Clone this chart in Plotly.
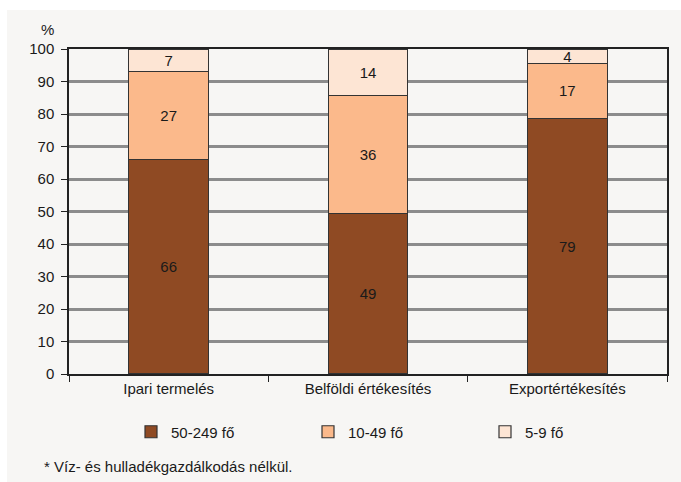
import plotly.graph_objects as go

categories = ["Ipari termelés", "Belföldi értékesítés", "Exportértékesítés"]
series_names = ["50-249 fő", "10-49 fő", "5-9 fő"]
large = [65.9, 49.3, 78.7]
medium = [27.3, 36.4, 16.9]
small = [6.8, 14.3, 4.4]
y_ticks = [0, 10, 20, 30, 40, 50, 60, 70, 80, 90, 100]

colors = ["#8f4a23", "#fbb98b", "#fde5d4"]
FONT = "Liberation Sans"
PANEL = "#f7f6f4"
TXT = "#1a1a1a"
FS = 15

W, H = 681, 482
L, R, T, B = 69, 14, 49, 108

fig = go.Figure()
for name, vals, col in zip(series_names, [large, medium, small], colors):
    fig.add_trace(go.Bar(
        x=categories, y=vals, name=name,
        marker=dict(color=col, line=dict(color="#333333", width=1.2)),
        text=[f"{v:.0f}" for v in vals],
        textposition="inside", insidetextanchor="middle",
        constraintext="none", textangle=0,
        insidetextfont=dict(family=FONT, size=FS, color=TXT),
        width=0.4,
    ))

pw = W - L - R
ph = H - T - B
def px_x(p):
    return (p - L) / pw
def px_y(p):
    return (H - B - p) / ph

fig.update_layout(
    width=W, height=H,
    margin=dict(l=L, r=R, t=T, b=B),
    barmode="stack",
    paper_bgcolor=PANEL, plot_bgcolor=PANEL,
    font=dict(family=FONT, size=FS, color=TXT),
    showlegend=True,
    legend=dict(
        orientation="h", x=px_x(131), xanchor="left", y=px_y(432), yanchor="middle",
        entrywidth=132, entrywidthmode="pixels", itemwidth=30,
        font=dict(family=FONT, size=FS, color=TXT), bgcolor="rgba(0,0,0,0)",
        traceorder="normal",
    ),
    xaxis=dict(
        type="category", showline=True, linecolor="#222222", linewidth=1.5,
        mirror=True, ticks="outside", tickson="boundaries", ticklen=6,
        tickcolor="#222222", tickfont=dict(family=FONT, size=FS, color=TXT),
        showgrid=False,
    ),
    yaxis=dict(
        range=[0, 100], tickvals=y_ticks, showline=True, linecolor="#222222",
        linewidth=1.5, mirror=True, ticks="outside", ticklen=6,
        tickcolor="#222222", showgrid=True, gridcolor="#8c8c8c", gridwidth=2.5,
        tickfont=dict(family=FONT, size=FS, color=TXT), zeroline=False,
        ticklabelstandoff=4,
    ),
    shapes=[
        dict(type="rect", xref="paper", yref="paper", x0=px_x(-5), x1=px_x(7),
             y0=px_y(490), y1=px_y(-5), fillcolor="white", line=dict(width=0), layer="below"),
        dict(type="rect", xref="paper", yref="paper", x0=px_x(-5), x1=px_x(690),
             y0=px_y(10), y1=px_y(-5), fillcolor="white", line=dict(width=0), layer="below"),
    ],
    annotations=[
        dict(text="%", xref="paper", yref="paper", x=px_x(47), y=px_y(29),
             xanchor="center", yanchor="middle", showarrow=False,
             font=dict(family=FONT, size=FS, color=TXT)),
        dict(text="* Víz- és hulladékgazdálkodás nélkül.", xref="paper", yref="paper",
             x=px_x(42), y=px_y(466), xanchor="left", yanchor="middle", showarrow=False,
             font=dict(family=FONT, size=FS, color=TXT)),
    ],
)

fig.write_html("out.html")
